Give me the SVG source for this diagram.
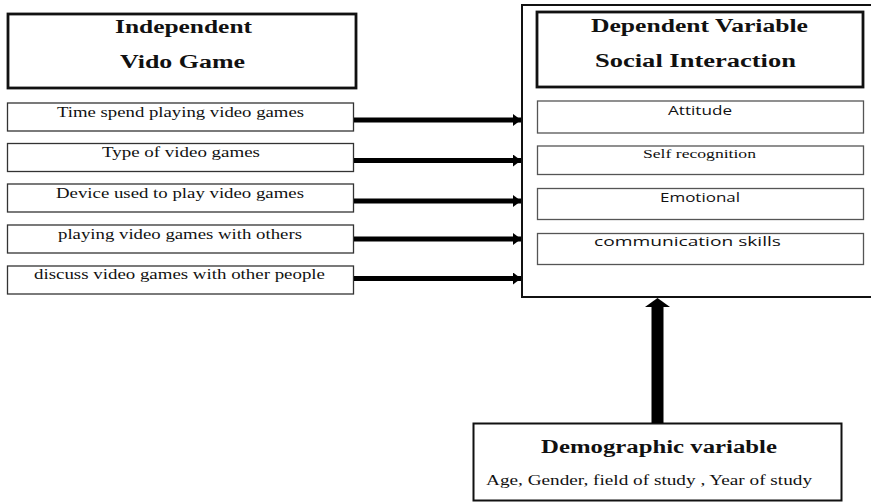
<svg xmlns="http://www.w3.org/2000/svg" width="871" height="503" viewBox="0 0 871 503">
<defs>
<style>
.bg{fill:#fff}
.thin{fill:#fff;stroke:#333;stroke-width:1.3}
.thinr{fill:#fff;stroke:#555;stroke-width:1.3}
.thick{fill:#fff;stroke:#111;stroke-width:2.8}
.med{fill:#fff;stroke:#111;stroke-width:2}
.ser{font-family:"Liberation Serif","Times New Roman",serif;fill:#111}
.hb{font-size:18px;font-weight:bold}
.it{font-size:15px}
.san{font-family:"Open Sans","Liberation Sans",Arial,sans-serif;font-size:12.5px;fill:#111}
.arr{stroke:#000;stroke-width:5;fill:none}
</style>
<marker id="ah" markerUnits="userSpaceOnUse" viewBox="0 0 8 12" refX="8" refY="6" markerWidth="8" markerHeight="12" orient="auto">
<polygon points="0,0 8,6 0,12" fill="#000"/>
</marker>
</defs>
<rect class="bg" x="0" y="0" width="871" height="503"/>

<g id="independent">
<rect class="thick" x="8" y="14" width="348" height="74"/>
<text class="ser hb" x="115" y="33" textLength="137" lengthAdjust="spacingAndGlyphs">Independent</text>
<text class="ser hb" x="120" y="68" textLength="125" lengthAdjust="spacingAndGlyphs">Vido Game</text>
</g>

<g id="iv1">
<rect class="thin" x="7.5" y="103" width="346" height="28"/>
<text class="ser it" x="57" y="117" textLength="247" lengthAdjust="spacingAndGlyphs">Time spend playing video games</text>
</g>
<g id="iv2">
<rect class="thin" x="7.5" y="143.5" width="346" height="28"/>
<text class="ser it" x="102" y="157" textLength="158" lengthAdjust="spacingAndGlyphs">Type of video games</text>
</g>
<g id="iv3">
<rect class="thin" x="7.5" y="184" width="346" height="28"/>
<text class="ser it" x="56" y="198" textLength="248" lengthAdjust="spacingAndGlyphs">Device used to play video games</text>
</g>
<g id="iv4">
<rect class="thin" x="7.5" y="225" width="346" height="28"/>
<text class="ser it" x="58" y="238.5" textLength="244" lengthAdjust="spacingAndGlyphs">playing video games with others</text>
</g>
<g id="iv5">
<rect class="thin" x="7.5" y="266" width="346" height="28"/>
<text class="ser it" x="34" y="278.5" textLength="291" lengthAdjust="spacingAndGlyphs">discuss video games with other people</text>
</g>

<g id="dependent">
<rect class="med" x="522" y="5" width="360" height="292"/>
<g id="dv-header">
<rect class="thick" x="537" y="12" width="326" height="75"/>
<text class="ser hb" x="591" y="32" textLength="217" lengthAdjust="spacingAndGlyphs">Dependent Variable</text>
<text class="ser hb" x="595" y="67" textLength="201" lengthAdjust="spacingAndGlyphs">Social Interaction</text>
</g>
<g id="dv1">
<rect class="thinr" x="537.5" y="101" width="326" height="32"/>
<text class="san" x="668" y="114.5" textLength="64" lengthAdjust="spacingAndGlyphs">Attitude</text>
</g>
<g id="dv2">
<rect class="thinr" x="537.5" y="146" width="326" height="28.5"/>
<text class="ser" font-size="13" x="643" y="157.5" textLength="113" lengthAdjust="spacingAndGlyphs">Self recognition</text>
</g>
<g id="dv3">
<rect class="thinr" x="537.5" y="188.5" width="326" height="31"/>
<text class="san" x="660" y="201.5" textLength="80" lengthAdjust="spacingAndGlyphs">Emotional</text>
</g>
<g id="dv4">
<rect class="thinr" x="537.5" y="233.5" width="326" height="31"/>
<text class="san" x="594" y="246" textLength="187" lengthAdjust="spacingAndGlyphs">communication skills</text>
</g>
</g>

<g id="demographic">
<rect class="med" x="473.5" y="423.5" width="368" height="77"/>
<text class="ser hb" x="541" y="453" textLength="236" lengthAdjust="spacingAndGlyphs">Demographic variable</text>
<text class="ser it" x="486" y="485" textLength="326" lengthAdjust="spacingAndGlyphs">Age, Gender, field of study , Year of study</text>
</g>

<g id="connectors">
<line class="arr" x1="354" y1="120" x2="521" y2="120" marker-end="url(#ah)"/>
<line class="arr" x1="354" y1="160.5" x2="521" y2="160.5" marker-end="url(#ah)"/>
<line class="arr" x1="354" y1="201" x2="521" y2="201" marker-end="url(#ah)"/>
<line class="arr" x1="354" y1="239" x2="521" y2="239" marker-end="url(#ah)"/>
<line class="arr" x1="354" y1="278.5" x2="521" y2="278.5" marker-end="url(#ah)"/>
<line x1="657.5" y1="423" x2="657.5" y2="305" stroke="#000" stroke-width="12"/>
<polygon points="645,307 670,307 657.5,298" fill="#000"/>
</g>
</svg>
